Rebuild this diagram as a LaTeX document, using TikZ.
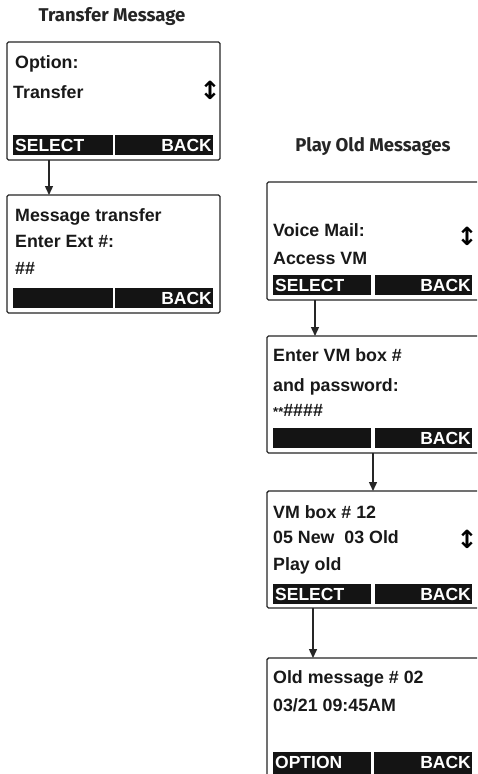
\documentclass[tikz,border=0pt]{standalone}
\usepackage{fontspec}
\setmainfont{Liberation Sans}
\newfontfamily\titlefont{Fira Sans}
\newfontfamily\symfont{DejaVu Sans}
\usetikzlibrary{arrows.meta}
\tikzset{
  screen/.style={draw=black!85, line width=1.4pt, rounded corners=1.5pt},
  softbar/.style={fill=black!92, draw=none},
  line/.style={font=\fontsize{17.8}{20}\selectfont\bfseries, text=black!90, inner sep=0pt, anchor=base west},
  keyl/.style={font=\fontsize{17.5}{20}\selectfont\bfseries, text=white, inner sep=0pt, anchor=base west},
  keyr/.style={font=\fontsize{17.5}{20}\selectfont\bfseries, text=white, inner sep=0pt, anchor=base east},
  scroll/.style={font=\symfont\fontsize{25}{27}\selectfont\bfseries, text=black, inner sep=0pt},
  heading/.style={font=\titlefont\fontsize{18.5}{21}\selectfont\bfseries, text=black!85, inner sep=0pt},
  flow/.style={draw=black!85, line width=1.4pt, -{Triangle[length=9pt,width=8pt]}},
}
\begin{document}
\begin{tikzpicture}[x=1pt,y=-1pt]
\clip (0,0) rectangle (477,774);
\fill[white] (0,0) rectangle (477,774);

% ---------- Transfer Message ----------
\node[heading] (t1) at (112,17) {Transfer Message};

% screen 1
\draw[screen] (7,42) rectangle (220,160);
\coordinate (s1b) at (49,160);
\node[line] (o1) at (15,68) {Option:};
\node[line] (o2) at (13,98) {Transfer};
\node[scroll] (o3) at (210,90) {↕};
\fill[softbar] (13,135) rectangle (113,155);
\fill[softbar] (115,135) rectangle (213,155);
\node[keyl] (o4) at (15,151.5) {SELECT};
\node[keyr] (o5) at (212,151.5) {BACK};

% screen 2
\draw[screen] (7,195) rectangle (220,313);
\coordinate (s2t) at (49,195);
\node[line] (m1) at (15,221.5) {Message transfer};
\node[line] (m2) at (15,247.5) {Enter Ext \#:};
\node[line] (m3) at (15,274) {\#\#};
\fill[softbar] (13,288) rectangle (113,308);
\fill[softbar] (115,288) rectangle (213,308);
\node[keyr] (m4) at (212,304.5) {BACK};

\draw[flow] (s1b) -- (s2t);

% ---------- Play Old Messages ----------
\node[heading] (t2) at (373,147) {Play Old Messages};

% screen 3
\draw[screen] (267,182) rectangle (490,300);
\coordinate (s3b) at (315,300);
\node[line] (v1) at (273,236.5) {Voice Mail:};
\node[line] (v2) at (273,264.5) {Access VM};
\node[scroll] (v3) at (467,236) {↕};
\fill[softbar] (273,275) rectangle (371,295);
\fill[softbar] (375,275) rectangle (472,295);
\node[keyl] (v4) at (275,291.5) {SELECT};
\node[keyr] (v5) at (471,291.5) {BACK};

% screen 4
\draw[screen] (267,336) rectangle (490,453);
\coordinate (s4t) at (315,336);
\coordinate (s4b) at (373,453);
\node[line] (p1) at (273,361.5) {Enter VM box \#};
\node[line] (p2) at (273,391.5) {and password:};
\node[line] (p3) at (273,416.5) {{\fontsize{13}{14}\selectfont **}\#\#\#\#};
\fill[softbar] (273,428) rectangle (371,448);
\fill[softbar] (375,428) rectangle (472,448);
\node[keyr] (p4) at (471,444.5) {BACK};

\draw[flow] (s3b) -- (s4t);

% screen 5
\draw[screen] (267,491) rectangle (490,608);
\coordinate (s5t) at (373,491);
\coordinate (s5b) at (313,608);
\node[line] (b1) at (273,518.5) {VM box \# 12};
\node[line] (b2) at (273,543.5) {05 New\ \ 03 Old};
\node[scroll] (b3) at (467,539) {↕};
\node[line] (b4) at (273,570.5) {Play old};
\fill[softbar] (273,584) rectangle (371,604);
\fill[softbar] (375,584) rectangle (472,604);
\node[keyl] (b5) at (275,600.5) {SELECT};
\node[keyr] (b6) at (471,600.5) {BACK};

\draw[flow] (s4b) -- (s5t);

% screen 6
\draw[screen] (267,658) rectangle (490,800);
\coordinate (s6t) at (313,658);
\node[line] (d1) at (273,683.5) {Old message \# 02};
\node[line] (d2) at (273,711.5) {03/21 09:45AM};
\fill[softbar] (273,752) rectangle (371,780);
\fill[softbar] (374,752) rectangle (472,780);
\node[keyl] (d3) at (275,768.5) {OPTION};
\node[keyr] (d4) at (471,768.5) {BACK};

\draw[flow] (s5b) -- (s6t);
\end{tikzpicture}
\end{document}
